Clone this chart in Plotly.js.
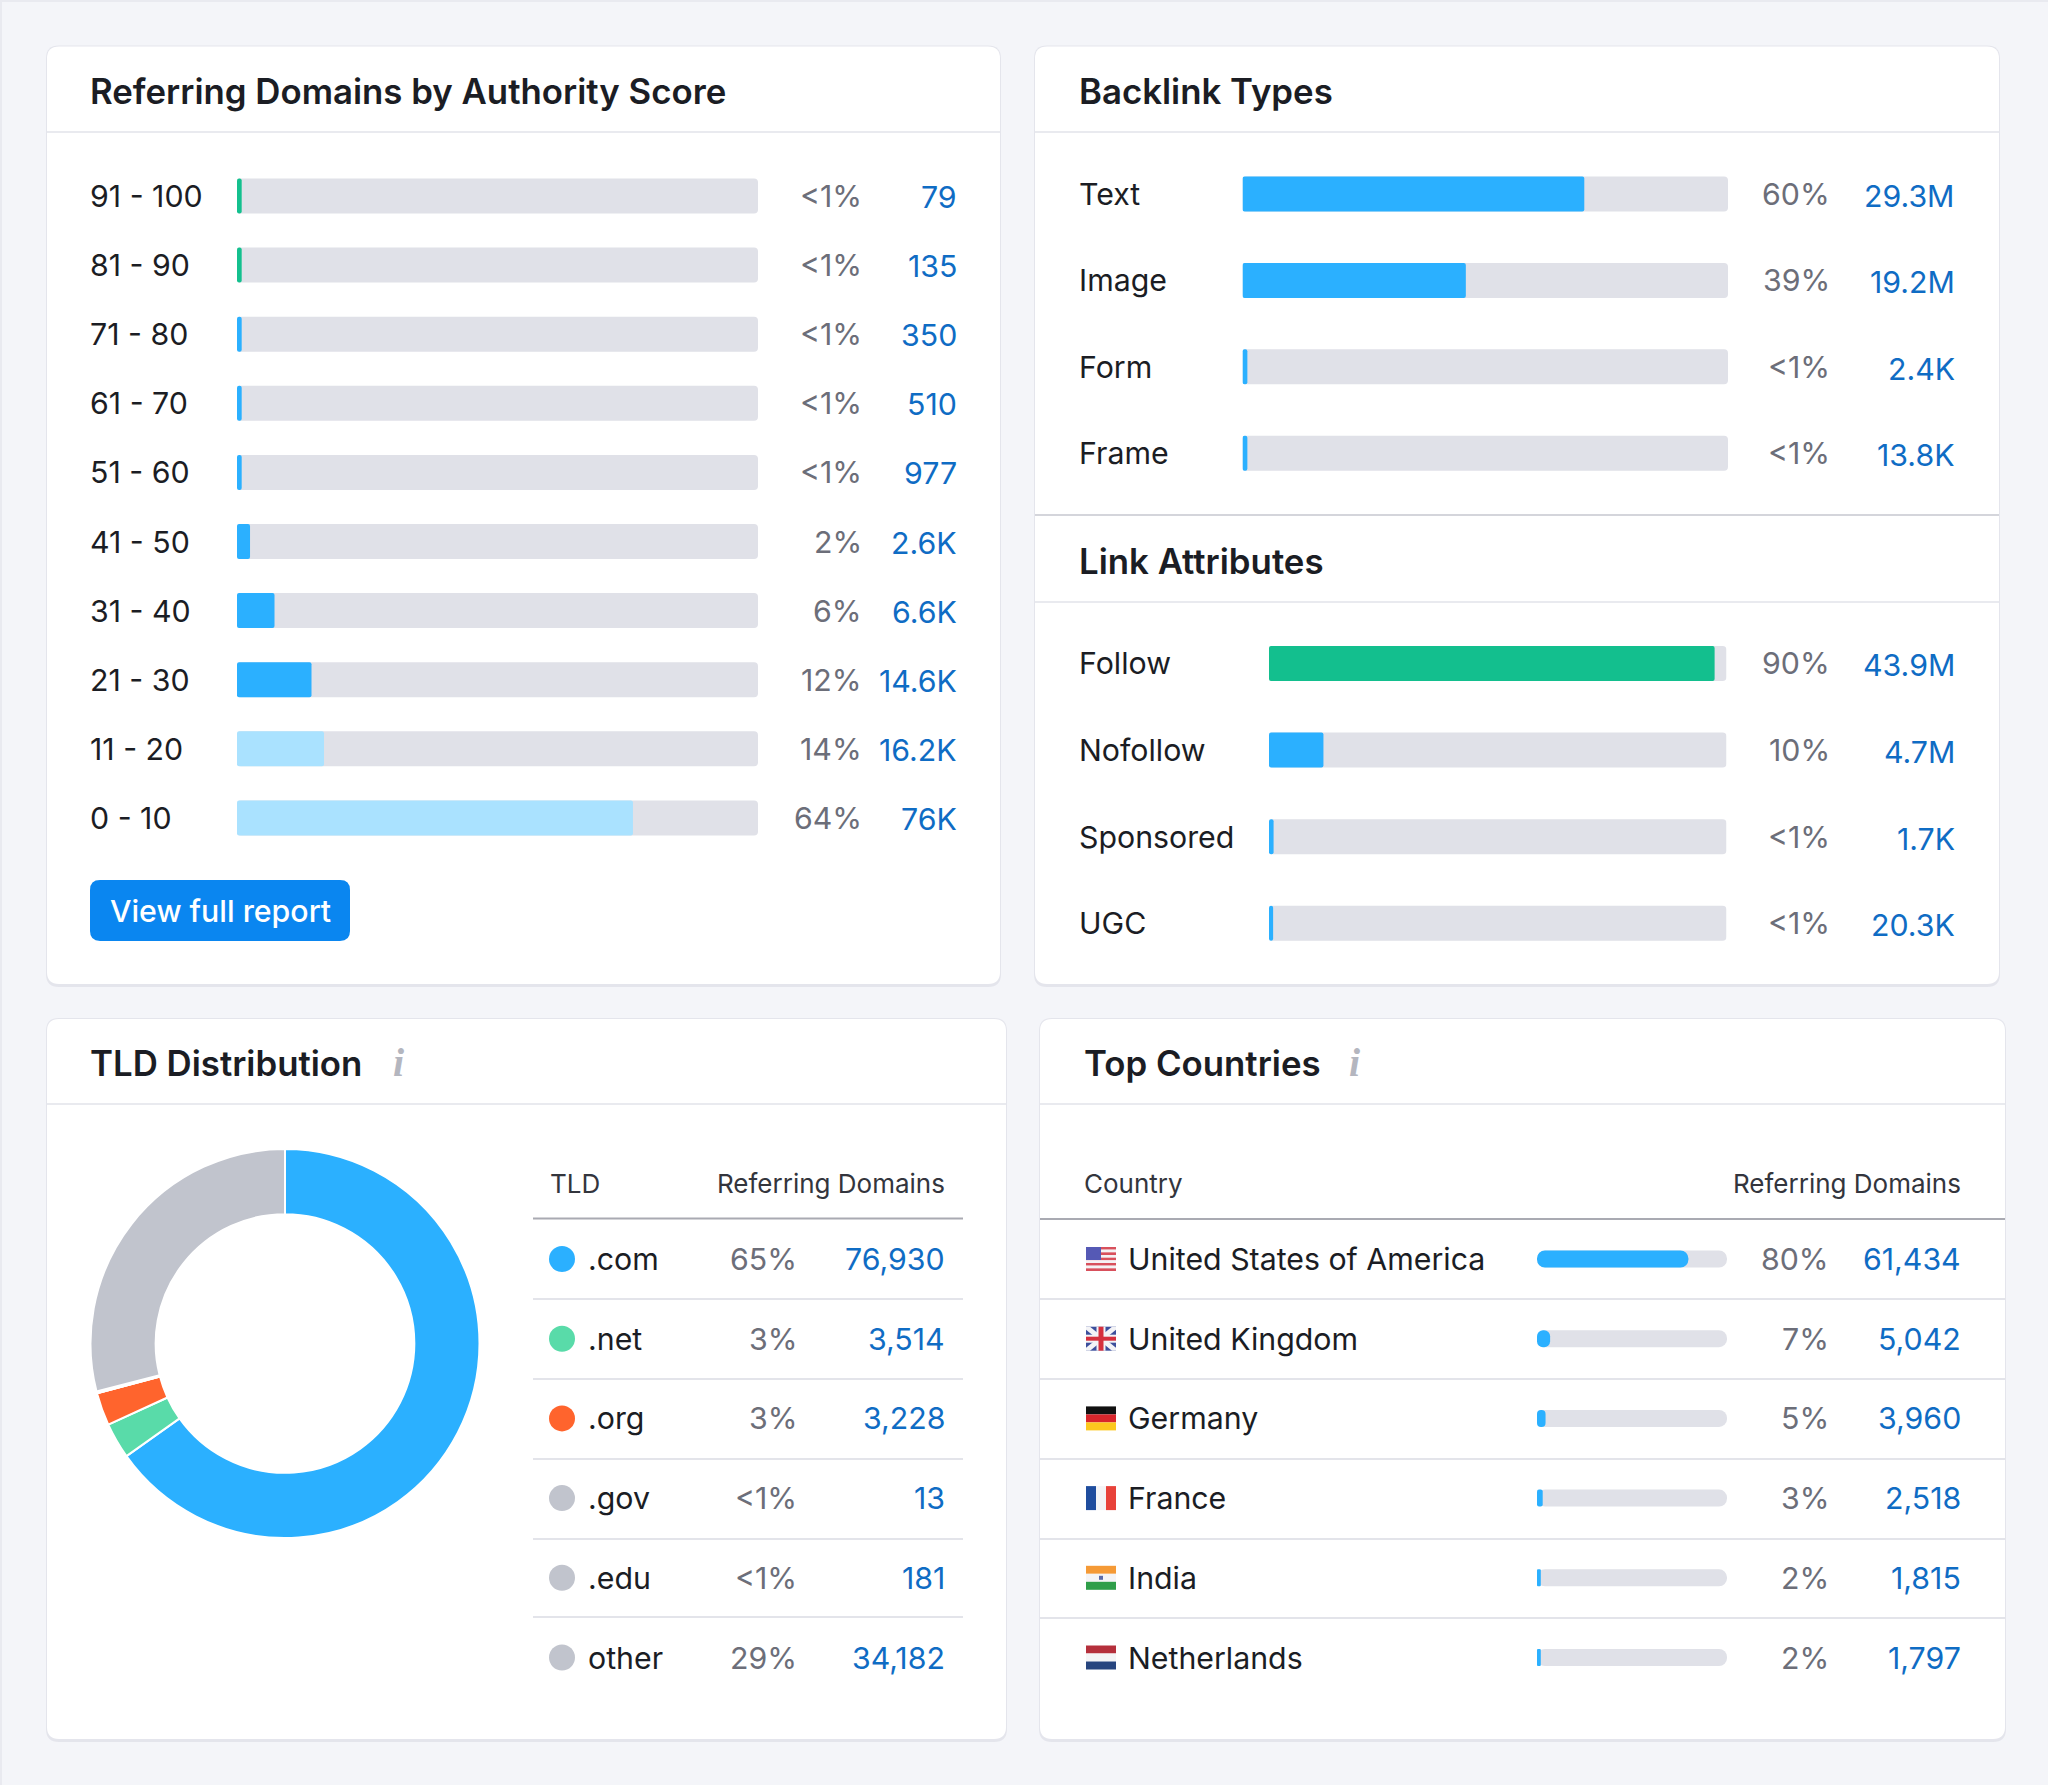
<!DOCTYPE html>
<html>
<head>
<meta charset="utf-8">
<title>Backlink dashboard</title>
<script src="https://cdn.plot.ly/plotly-3.0.1.min.js"></script>
<style>html,body{margin:0;padding:0;background:#f4f5f9}#chart{width:2048px;height:1785px}</style>
</head>
<body>
<div id="chart"></div>
<script>
// ---- data ----
const authorityBands = ['91 - 100','81 - 90','71 - 80','61 - 70','51 - 60','41 - 50','31 - 40','21 - 30','11 - 20','0 - 10'];
const authorityFill  = [0.9,0.9,0.9,0.9,0.9,2.5,7.2,14.3,16.7,76];
const authorityPct   = ['<1%','<1%','<1%','<1%','<1%','2%','6%','12%','14%','64%'];
const authorityCount = ['79','135','350','510','977','2.6K','6.6K','14.6K','16.2K','76K'];
const authorityColor = ['#14c08e','#14c08e','#2bb0ff','#2bb0ff','#2bb0ff','#2bb0ff','#2bb0ff','#2bb0ff','#aae2ff','#aae2ff'];

const backlinkTypes = ['Text','Image','Form','Frame'];
const backlinkFill  = [70.4,46,1,1];
const backlinkPct   = ['60%','39%','<1%','<1%'];
const backlinkCount = ['29.3M','19.2M','2.4K','13.8K'];

const linkAttrs = ['Follow','Nofollow','Sponsored','UGC'];
const linkFill  = [97.4,11.9,1,0.9];
const linkPct   = ['90%','10%','<1%','<1%'];
const linkCount = ['43.9M','4.7M','1.7K','20.3K'];
const linkColor = ['#13bf8e','#2bb0ff','#2bb0ff','#2bb0ff'];

const tldNames  = ['.com','.net','.org','.gov','.edu','other'];
const tldValues = [76930,3514,3228,13,181,34182];
const tldPct    = ['65%','3%','3%','<1%','<1%','29%'];
const tldCount  = ['76,930','3,514','3,228','13','181','34,182'];
const tldColors = ['#2bb0ff','#59dba9','#ff642d','#c1c4cd','#c1c4cd','#c1c4cd'];

const countries     = ['United States of America','United Kingdom','Germany','France','India','Netherlands'];
const countryFill   = [79.7,6.9,4.5,3,2,2];
const countryPct    = ['80%','7%','5%','3%','2%','2%'];
const countryCount  = ['61,434','5,042','3,960','2,518','1,815','1,797'];

// ---- style ----
const FONT='Inter, "Noto Sans", sans-serif';
const INK='#1b1d24', GREY='#6c6e79', LINK='#0f6cc4', TRACK='#e0e1e8', BLUE='#2bb0ff', GREEN='#13bf8e';
const W=2048,H=1785;
const px=x=>x/W, py=y=>1-y/H;
const SIZE={title:34.8,row:30.3,small:26};

const shapes=[], annotations=[], traces=[], layout={};

function rrPath(x0,y0,x1,y1,r){
  const X=v=>px(v).toFixed(5), Y=v=>py(v).toFixed(5);
  return `M${X(x0+r)} ${Y(y0)} L${X(x1-r)} ${Y(y0)} Q${X(x1)} ${Y(y0)} ${X(x1)} ${Y(y0+r)} L${X(x1)} ${Y(y1-r)} Q${X(x1)} ${Y(y1)} ${X(x1-r)} ${Y(y1)} L${X(x0+r)} ${Y(y1)} Q${X(x0)} ${Y(y1)} ${X(x0)} ${Y(y1-r)} L${X(x0)} ${Y(y0+r)} Q${X(x0)} ${Y(y0)} ${X(x0+r)} ${Y(y0)} Z`;
}
function pathShape(d,fill){shapes.push({type:'path',xref:'paper',yref:'paper',path:d,fillcolor:fill,line:{width:0},layer:'below'});}
function rect(x0,y0,x1,y1,fill){shapes.push({type:'rect',xref:'paper',yref:'paper',x0:px(x0),x1:px(x1),y0:py(y0),y1:py(y1),fillcolor:fill,line:{width:0},layer:'below'});}
function poly(pts,fill){pathShape('M'+pts.map(p=>px(p[0]).toFixed(5)+' '+py(p[1]).toFixed(5)).join(' L')+' Z',fill);}
function card(x0,y0,x1,y1){
  pathShape(rrPath(x0-1,y0-1,x1+1,y1+3,13),'#e4e5ec');
  pathShape(rrPath(x0,y0,x1,y1,12),'#ffffff');
}
function text(str,x,y,anchor,size,color,weight,extra){
  annotations.push(Object.assign({text:str,x:px(x),y:py(y),xref:'paper',yref:'paper',xanchor:anchor,yanchor:'middle',showarrow:false,borderpad:0,
    font:{family:FONT,size:size,color:color,weight:weight||400}},extra||{}));
}
function axText(str,x,idx,yref,anchor,size,color,shift){
  annotations.push({text:str,x:px(x),y:idx,xref:'paper',yref:yref,xanchor:anchor,yanchor:'middle',showarrow:false,borderpad:0,yshift:shift||0,
    font:{family:FONT,size:size,color:color}});
}
function axes(n,x0,x1,y0,y1,xrange,yrange,cats){
  const s=n===1?'':n;
  layout['xaxis'+s]={domain:[px(x0),px(x1)],range:xrange,visible:false,fixedrange:true,anchor:'y'+s,showgrid:false,zeroline:false};
  layout['yaxis'+s]={domain:[py(y1),py(y0)],range:yrange,type:'category',categoryorder:'array',categoryarray:cats,visible:false,fixedrange:true,anchor:'x'+s,showgrid:false,zeroline:false};
}
// An explicit base makes Plotly round both ends of a bar.
function barGroup(n,cats,fill,colors,x0,x1,firstY,step,barH,radius){
  const s=n===1?'':n, last=cats.length-1;
  axes(n,x0,x1,firstY-step/2,firstY+last*step+step/2,[0,100],[last+0.5,-0.5],cats);
  const common={type:'bar',orientation:'h',y:cats,xaxis:'x'+s,yaxis:'y'+s,hoverinfo:'skip',width:barH/step,base:0};
  traces.push(Object.assign({},common,{x:cats.map(()=>100),marker:{color:TRACK,cornerradius:radius[0],line:{width:0}}}));
  traces.push(Object.assign({},common,{x:fill,marker:{color:colors,cornerradius:radius[1],line:{width:0}}}));
}

// ---- page chrome ----
rect(0,0,W,2,'#e9eaf0'); rect(0,0,2,H,'#e9eaf0');
card(47,46.5,1000,984); card(1035,46.5,1999,984); card(47,1019,1006,1739); card(1040,1019,2005,1739);
[[47,1000,132],[1035,1999,132],[1035,1999,602],[47,1006,1104],[1040,2005,1104]].forEach(l=>rect(l[0],l[2]-1,l[1],l[2]+1,'#e9eaef'));
rect(1035,514,1999,516,'#d4d5db');

text('Referring Domains by Authority Score',89,91,'left',SIZE.title,INK,600);
text('Backlink Types',1078,91,'left',SIZE.title,INK,600);
text('Link Attributes',1078,561,'left',SIZE.title,INK,600);
text('TLD Distribution',89,1063,'left',SIZE.title,INK,600);
text('Top Countries',1083,1063,'left',SIZE.title,INK,600);
[391,1354].forEach(x=>{
  annotations.push({text:'<b><i>i</i></b>',x:px(x),y:py(1062),xref:'paper',yref:'paper',showarrow:false,font:{family:'"Liberation Serif", serif',size:40,color:'#b4b6bf'}});
});

// ---- authority bars ----
barGroup(1,authorityBands,authorityFill,authorityColor,237,758,196,69.1,35,[4,2]);
authorityBands.forEach((c,i)=>{
  axText(c,89,i,'y','left',SIZE.row,INK);
  axText(authorityPct[i],862.5,i,'y','right',SIZE.row,GREY);
  axText(authorityCount[i],958,i,'y','right',SIZE.row,LINK,-1);
});
pathShape(rrPath(90,880,350,941,10),'#0a86f0');
text('View full report',220,911,'center',SIZE.row,'#ffffff',500);

// ---- backlink types ----
barGroup(2,backlinkTypes,backlinkFill,backlinkTypes.map(()=>BLUE),1242.5,1728,194,86.4,35,[4,2]);
backlinkTypes.forEach((c,i)=>{
  axText(c,1078,i,'y2','left',SIZE.row,INK);
  axText(backlinkPct[i],1830.5,i,'y2','right',SIZE.row,GREY);
  axText(backlinkCount[i],1956,i,'y2','right',SIZE.row,LINK,-2);
});

// ---- link attributes ----
barGroup(3,linkAttrs,linkFill,linkColor,1269,1726.5,663.5,86.6,35,[4,2]);
linkAttrs.forEach((c,i)=>{
  axText(c,1078,i,'y3','left',SIZE.row,INK);
  axText(linkPct[i],1830.5,i,'y3','right',SIZE.row,GREY);
  axText(linkCount[i],1956,i,'y3','right',SIZE.row,LINK,-2);
});

// ---- TLD donut + table ----
traces.push({type:'pie',labels:tldNames,values:tldValues,hole:0.665,sort:false,direction:'clockwise',rotation:0,
  marker:{colors:tldColors,line:{color:'#ffffff',width:2}},textinfo:'none',hoverinfo:'skip',
  domain:{x:[px(285-194.5),px(285+194.5)],y:[py(1343.5+194.5),py(1343.5-194.5)]}});
const tableRowStep=79.7, tableFirst=1259;
const tableTop=tableFirst-tableRowStep/2, tableBottom=tableFirst+5*tableRowStep+tableRowStep/2;
axes(4,549,575,tableTop,tableBottom,[-1,1],[5.5,-0.5],tldNames);
traces.push({type:'scatter',mode:'markers',x:tldNames.map(()=>0),y:tldNames,xaxis:'x4',yaxis:'y4',hoverinfo:'skip',cliponaxis:false,
  marker:{size:26,color:tldColors,line:{width:0}}});
text('TLD',549,1183,'left',SIZE.small,'#33353d');
text('Referring Domains',946,1183,'right',SIZE.small,'#33353d');
rect(533,1217.5,963,1219.5,'#a9aab2');
[1299,1379,1459,1539,1617].forEach(y=>rect(533,y-1,963,y+1,'#e3e4ea'));
tldNames.forEach((c,i)=>{
  axText(c,587,i,'y4','left',SIZE.row,INK);
  axText(tldPct[i],797.5,i,'y4','right',SIZE.row,GREY);
  axText(tldCount[i],946,i,'y4','right',SIZE.row,LINK);
});

// ---- countries ----
barGroup(5,countries,countryFill,countries.map(()=>BLUE),1537,1727,tableFirst,tableRowStep,17,[8.5,8.5]);
text('Country',1083,1183,'left',SIZE.small,'#33353d');
text('Referring Domains',1962,1183,'right',SIZE.small,'#33353d');
rect(1040,1218,2005,1220,'#a9aab2');
[1299,1379,1459,1539,1618].forEach(y=>rect(1040,y-1,2005,y+1,'#e3e4ea'));
countries.forEach((c,i)=>{
  axText(c,1126.5,i,'y5','left',SIZE.row,INK);
  axText(countryPct[i],1830,i,'y5','right',SIZE.row,GREY);
  axText(countryCount[i],1962,i,'y5','right',SIZE.row,LINK);
});

// ---- flags (decoration) ----
function flag(i,draw){const cy=tableFirst+i*tableRowStep, x0=1086,x1=1116,y0=cy-12,y1=cy+12; draw(x0,x1,y0,y1);}
function hStripes(x0,x1,y0,y1,cols){const h=(y1-y0)/cols.length;cols.forEach((c,k)=>rect(x0,y0+k*h,x1,y0+(k+1)*h,c));}
function vStripes(x0,x1,y0,y1,cols){const w=(x1-x0)/cols.length;cols.forEach((c,k)=>rect(x0+k*w,y0,x0+(k+1)*w,y1,c));}
flag(0,(a,b,c,d)=>{
  const cols=[];for(let k=0;k<9;k++)cols.push(k%2?'#f4f2f4':'#d8505c');
  hStripes(a,b,c,d,cols);
  rect(a,c,a+15,c+13,'#5559b5');
});
flag(1,(a,b,c,d)=>{
  rect(a,c,b,d,'#3c4f9c');
  poly([[a,c],[a+4,c],[b,d-3],[b,d],[b-4,d],[a,c+3]],'#f3f3f6');
  poly([[b,c],[b,c+3],[a+4,d],[a,d],[a,d-3],[b-4,c]],'#f3f3f6');
  rect(a+10.5,c,b-10.5,d,'#f3f3f6'); rect(a,c+8,b,d-8,'#f3f3f6');
  rect(a+12.5,c,b-12.5,d,'#d5303e'); rect(a,c+10,b,d-10,'#d5303e');
});
flag(2,(a,b,c,d)=>hStripes(a,b,c,d,['#111111','#d8262c','#fcc81e']));
flag(3,(a,b,c,d)=>vStripes(a,b,c,d,['#1f4d9e','#f4f4f6','#e8423a']));
flag(4,(a,b,c,d)=>{hStripes(a,b,c,d,['#f59a36','#f4f4f6','#2f9e49']); rect((a+b)/2-2,(c+d)/2-2,(a+b)/2+2,(c+d)/2+2,'#5a6aa8');});
flag(5,(a,b,c,d)=>hStripes(a,b,c,d,['#b5303c','#f4f4f6','#27457f']));

Object.assign(layout,{width:W,height:H,autosize:false,margin:{l:0,r:0,t:0,b:0,pad:0},
  paper_bgcolor:'#f4f5f9',plot_bgcolor:'rgba(0,0,0,0)',barmode:'overlay',showlegend:false,hovermode:false,
  shapes,annotations,font:{family:FONT}});
Plotly.newPlot('chart',traces,layout,{displayModeBar:false,staticPlot:true});
</script>
</body>
</html>
